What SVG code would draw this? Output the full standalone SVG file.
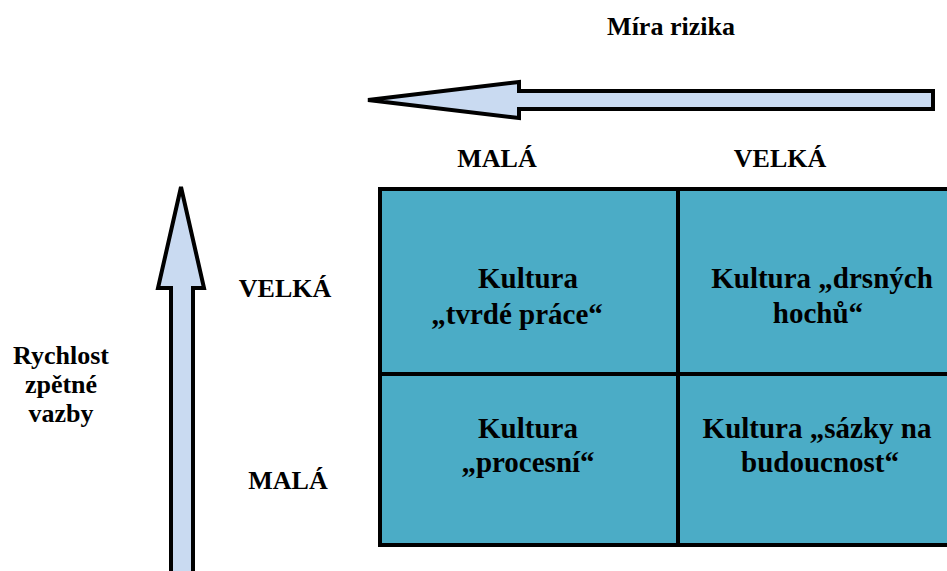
<svg xmlns="http://www.w3.org/2000/svg" width="947" height="571" viewBox="0 0 947 571">
  <style>
    .lbl { font-weight: bold; fill: #000; text-anchor: middle; }
    .axis { font-size: 26px; }
    .cell-text { font-size: 29px; }
    .cell { fill: #4bacc6; stroke: #000; stroke-width: 4; }
    .arrow { fill: #c9daf1; stroke: #000; stroke-width: 4; stroke-linejoin: miter; }
  </style>
  <rect width="947" height="571" fill="#fff"/>

  <g id="connectors">
    <!-- risk axis arrow pointing left -->
    <path class="arrow" d="M933,91 L519,91 L519,82 L368,100 L519,118 L519,109 L933,109 Z"/>
    <!-- feedback speed axis arrow pointing up -->
    <path class="arrow" d="M171,575 L171,288 L158,288 L181,187 L204,288 L193,288 L193,575 Z"/>
  </g>

  <g id="axis-risk" font-family="'Liberation Serif', serif">
    <text class="lbl axis" x="671" y="35">Míra rizika</text>
    <text class="lbl axis" x="497" y="167">MALÁ</text>
    <text class="lbl axis" x="780" y="167">VELKÁ</text>
  </g>

  <g id="axis-feedback" font-family="'Liberation Serif', serif">
    <text class="lbl axis" x="61" y="364">Rychlost</text>
    <text class="lbl axis" x="61" y="393">zpětné</text>
    <text class="lbl axis" x="61" y="422">vazby</text>
    <text class="lbl axis" x="285" y="297">VELKÁ</text>
    <text class="lbl axis" x="288" y="489">MALÁ</text>
  </g>

  <g id="cell-hard-work" font-family="'Liberation Serif', serif">
    <rect class="cell" x="380" y="189" width="298" height="185"/>
    <text class="lbl cell-text" x="528" y="288">Kultura</text>
    <text class="lbl cell-text" x="517" y="324">„tvrdé práce“</text>
  </g>
  <g id="cell-tough-guys" font-family="'Liberation Serif', serif">
    <rect class="cell" x="678" y="189" width="280" height="185"/>
    <text class="lbl cell-text" x="822" y="288">Kultura „drsných</text>
    <text class="lbl cell-text" x="818" y="323">hochů“</text>
  </g>
  <g id="cell-process" font-family="'Liberation Serif', serif">
    <rect class="cell" x="380" y="374" width="298" height="171"/>
    <text class="lbl cell-text" x="528" y="438">Kultura</text>
    <text class="lbl cell-text" x="528" y="472">„procesní“</text>
  </g>
  <g id="cell-bet-your-company" font-family="'Liberation Serif', serif">
    <rect class="cell" x="678" y="374" width="280" height="171"/>
    <text class="lbl cell-text" x="817" y="438">Kultura „sázky na</text>
    <text class="lbl cell-text" x="820" y="472">budoucnost“</text>
  </g>
</svg>
